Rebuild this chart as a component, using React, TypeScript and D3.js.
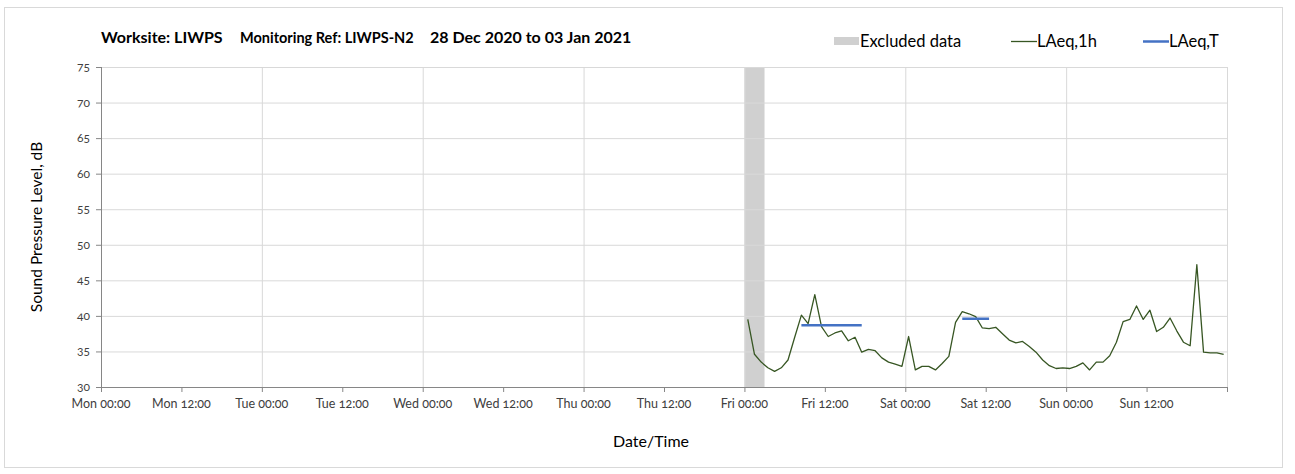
import React from "react";
import * as d3 from "d3";

const titleParts = ["Worksite: LIWPS", "Monitoring Ref: LIWPS-N2", "28 Dec 2020 to 03 Jan 2021"];
const xTickLabels = [
  "Mon 00:00", "Mon 12:00", "Tue 00:00", "Tue 12:00", "Wed 00:00", "Wed 12:00", "Thu 00:00",
  "Thu 12:00", "Fri 00:00", "Fri 12:00", "Sat 00:00", "Sat 12:00", "Sun 00:00", "Sun 12:00",
];
const yTicks = [30, 35, 40, 45, 50, 55, 60, 65, 70, 75];
// hourly LAeq,1h from Fri 00:00 (hour 96 of the week)
const dataStartHour = 96;
const laeq1h = [
  39.5, 34.6, 33.5, 32.7, 32.2, 32.7, 33.8, 37.0, 40.1, 38.9, 43.0, 38.5,
  37.1, 37.6, 37.9, 36.5, 37.0, 34.9, 35.3, 35.1, 34.1, 33.5, 33.2, 32.9,
  37.1, 32.4, 32.9, 32.9, 32.4, 33.3, 34.3, 39.1, 40.6, 40.3, 39.9, 38.3,
  38.2, 38.4, 37.5, 36.6, 36.2, 36.4, 35.7, 34.9, 33.8, 33.0, 32.6, 32.7,
  32.6, 32.9, 33.4, 32.4, 33.5, 33.5, 34.4, 36.3, 39.2, 39.5, 41.4, 39.5,
  40.8, 37.8, 38.4, 39.7, 37.9, 36.3, 35.8, 47.2, 34.9, 34.8, 34.8, 34.6,
];
const laeqTStart = [104, 128];
const laeqTEnd = [113, 132];
const laeqTValue = [38.7, 39.6];
const excludedStart = [96];
const excludedEnd = [99];

const W = 1295;
const H = 474;
const M = { left: 101, right: 1227, top: 67, bottom: 387 };
const font = "Lato, 'Open Sans', sans-serif";

export default function App() {
  const x = d3.scaleLinear().domain([0, 168]).range([M.left, M.right]);
  const y = d3.scaleLinear().domain([30, 75]).range([M.bottom, M.top]);
  const pts: [number, number][] = laeq1h.map((v, i) => [dataStartHour + i + 0.5, v]);
  const line = d3.line<[number, number]>().x((d) => x(d[0])).y((d) => y(d[1]));
  const majorHours = d3.range(0, 169, 24);
  const tickHours = d3.range(0, 168, 12);
  const onum = { fontVariantNumeric: "oldstyle-nums" } as React.CSSProperties;

  return (
    <div style={{ position: "absolute", left: 0, top: 0 }}>
      <svg width={W} height={H} style={{ display: "block", background: "#fff" }}>
        <rect x={4.5} y={7.5} width={1278} height={460} fill="#fff" stroke="#d9d9d9" />
        {excludedStart.map((s, i) => (
          <rect key={i} x={x(s)} y={M.top} width={x(excludedEnd[i]) - x(s)} height={M.bottom - M.top} fill="#d0d0d0" />
        ))}
        {yTicks.map((t) => (
          <line key={t} x1={M.left} x2={M.right} y1={y(t) + 0.5} y2={y(t) + 0.5} stroke="#d9d9d9" strokeWidth={1} />
        ))}
        {majorHours.map((h) => (
          <line key={h} x1={x(h) + 0.5} x2={x(h) + 0.5} y1={M.top} y2={M.bottom} stroke="#d9d9d9" strokeWidth={1} />
        ))}
        <line x1={M.left + 0.5} x2={M.left + 0.5} y1={M.top} y2={M.bottom} stroke="#868686" />
        <line x1={M.left} x2={M.right} y1={M.bottom + 0.5} y2={M.bottom + 0.5} stroke="#868686" />
        {yTicks.map((t) => (
          <g key={t}>
            <line x1={M.left - 5} x2={M.left} y1={y(t) + 0.5} y2={y(t) + 0.5} stroke="#868686" />
            <text x={M.left - 11} y={y(t) + 4} textAnchor="end" fontSize={12} fill="#404040" fontFamily={font} style={onum}>
              {t}
            </text>
          </g>
        ))}
        {tickHours.map((h, i) => (
          <g key={h}>
            <line x1={x(h) + 0.5} x2={x(h) + 0.5} y1={M.bottom} y2={M.bottom + 5} stroke="#868686" />
            <text x={x(h)} y={M.bottom + 21} textAnchor="middle" fontSize={12.5} fill="#404040" fontFamily={font} style={onum}>
              {xTickLabels[i]}
            </text>
          </g>
        ))}
        <line x1={x(168) + 0.5} x2={x(168) + 0.5} y1={M.bottom} y2={M.bottom + 5} stroke="#868686" />
        <path d={line(pts) || ""} fill="none" stroke="#375623" strokeWidth={1.3} strokeLinejoin="round" />
        {laeqTStart.map((s, i) => (
          <line key={i} x1={x(s + 0.5)} x2={x(laeqTEnd[i] + 0.5)} y1={y(laeqTValue[i])} y2={y(laeqTValue[i])} stroke="#4472c4" strokeWidth={2.5} />
        ))}
        <text x={101} y={43} fontSize={16} fontWeight="bold" fill="#000" fontFamily={font}>{titleParts[0]}</text>
        <text x={240} y={43} fontSize={14.5} fontWeight="bold" fill="#000" fontFamily={font}>{titleParts[1]}</text>
        <text x={430} y={43} fontSize={16} fontWeight="bold" fill="#000" fontFamily={font}>{titleParts[2]}</text>
        <rect x={834} y={37} width={25} height={8} fill="#d0d0d0" />
        <text x={860} y={47} fontSize={16.5} fill="#000" fontFamily={font}>Excluded data</text>
        <line x1={1011} x2={1037} y1={41.5} y2={41.5} stroke="#375623" strokeWidth={1.3} />
        <text x={1037} y={47} fontSize={16.5} fill="#000" fontFamily={font}>LAeq,1h</text>
        <line x1={1143} x2={1169} y1={41.5} y2={41.5} stroke="#4472c4" strokeWidth={2.5} />
        <text x={1169} y={47} fontSize={16.5} fill="#000" fontFamily={font}>LAeq,T</text>
        <text transform={`translate(42,${(M.top + M.bottom) / 2}) rotate(-90)`} textAnchor="middle" fontSize={15.5} fill="#000" fontFamily={font}>
          Sound Pressure Level, dB
        </text>
        <text x={651} y={447} textAnchor="middle" fontSize={16} fill="#000" fontFamily={font}>
          Date/Time
        </text>
      </svg>
    </div>
  );
}
